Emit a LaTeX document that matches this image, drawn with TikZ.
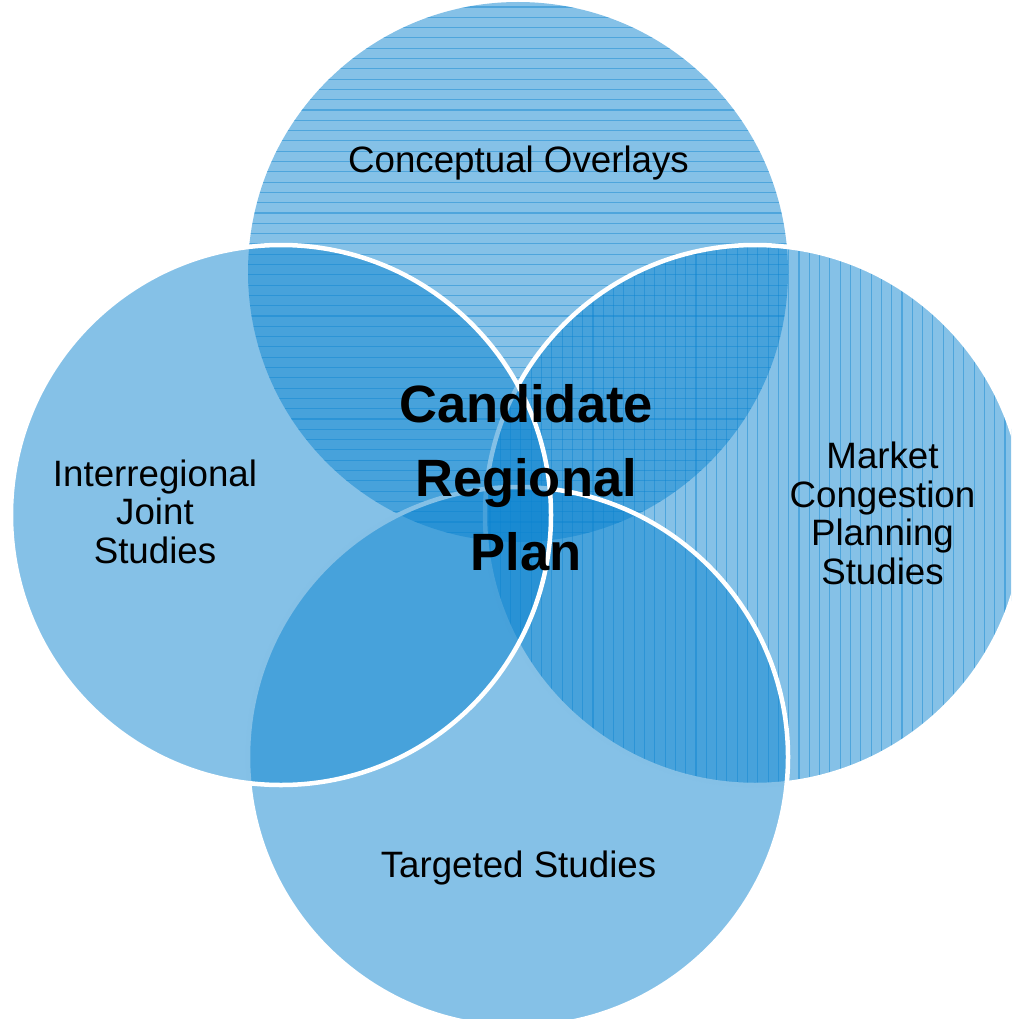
\documentclass[tikz,border=0pt]{standalone}
\usepackage{fontspec}
\setmainfont{Liberation Sans}
\definecolor{vennblue}{RGB}{11,131,207}
\begin{document}
\begin{tikzpicture}[x=1pt,y=-1pt,
  venn/.style={fill=vennblue,fill opacity=0.5},
  rim/.style={draw=white,line width=4.5pt},
  hatch/.style={draw=vennblue,draw opacity=0.45,line width=1.1pt},
  label/.style={font=\fontsize{36.7}{38.5}\selectfont,align=center,anchor=base,inner sep=0pt,text=black},
  core/.style={font=\fontsize{52.5}{74}\selectfont\bfseries,align=center,anchor=base,inner sep=0pt,text=black}]
\useasboundingbox (0,0) rectangle (1011,1019);
\clip (0,0) rectangle (1011,1019);

% circle centres
\coordinate (ctop)   at (518,272);
\coordinate (cright) at (755,515);
\coordinate (cbot)   at (518,757);
\coordinate (cleft)  at (281,515);

% top circle: horizontal hatching
\fill[venn] (ctop) circle (270pt);
\begin{scope}
  \clip (ctop) circle (270pt);
  \foreach \y in {7,17.3,...,545} \draw[hatch] (240,\y) -- (800,\y);
\end{scope}

% right circle: vertical hatching
\fill[venn] (cright) circle (270pt);
\begin{scope}
  \clip (cright) circle (270pt);
  \foreach \x in {490,500.3,...,1030} \draw[hatch] (\x,240) -- (\x,790);
\end{scope}
\draw[rim] (cright) circle (270pt);

% bottom circle
\fill[venn] (cbot) circle (270pt);
\draw[rim] (cbot) circle (270pt);

% left circle
\fill[venn] (cleft) circle (270pt);
\draw[rim] (cleft) circle (270pt);

% labels (base anchor sits on the last line)
\node[label] (conc) at (518.5,173) {Conceptual Overlays};
\node[label] (inter) at (155,563) {Interregional\\Joint\\Studies};
\node[label] (market) at (882.5,584) {Market\\Congestion\\Planning\\Studies};
\node[label] (target) at (518.5,877) {Targeted Studies};
\node[core] (plan) at (526,570) {Candidate\\Regional\\Plan};
\end{tikzpicture}
\end{document}
